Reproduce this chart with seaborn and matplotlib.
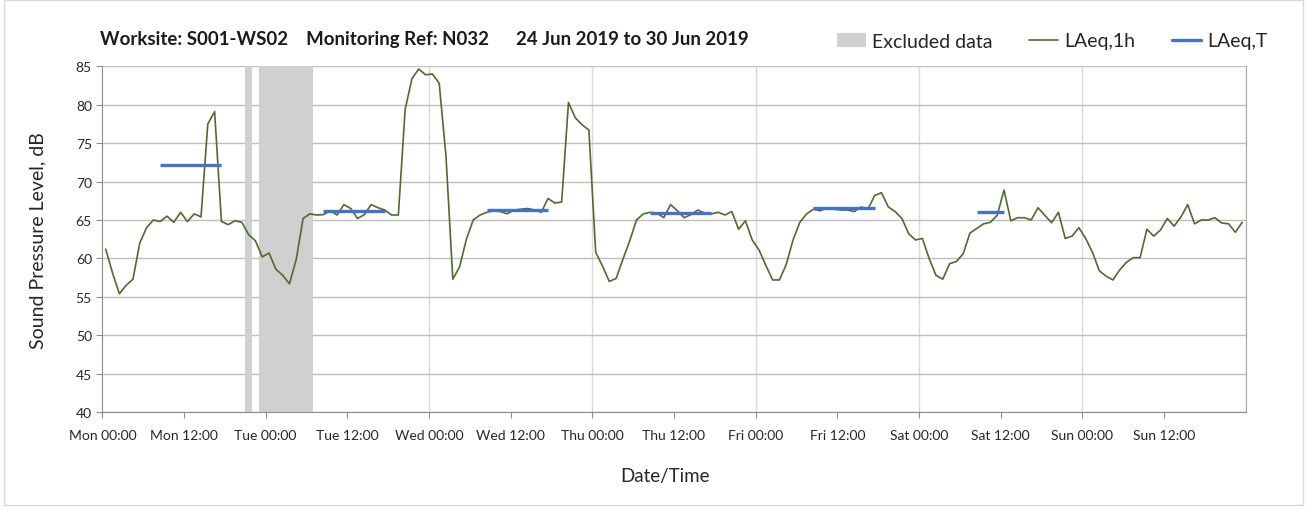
import numpy as np
import pandas as pd
import matplotlib.pyplot as plt
from matplotlib.patches import Patch, Rectangle
from matplotlib.lines import Line2D
import seaborn as sns

# hourly LAeq,1h values, Mon 00:00 -> Sun 23:00
laeq_1h = [
    61.2, 58.1, 55.4, 56.5, 57.3, 62.0, 64.0, 65.0, 64.8, 65.5, 64.7, 66.0,
    64.8, 65.8, 65.4, 77.5, 79.1, 64.8, 64.4, 64.9, 64.7, 63.1, 62.3, 60.2,
    60.7, 58.6, 57.8, 56.7, 59.9, 65.2, 65.8, 65.65, 65.7, 66.2, 65.65, 67.0,
    66.5, 65.2, 65.7, 67.0, 66.6, 66.3, 65.65, 65.65, 79.4, 83.4, 84.65, 83.9,
    84.0, 82.8, 73.3, 57.3, 58.9, 62.5, 65.0, 65.65, 66.0, 66.2, 66.1, 65.8,
    66.3, 66.4, 66.5, 66.3, 66.0, 67.8, 67.2, 67.35, 80.3, 78.3, 77.4, 76.7,
    60.8, 59.0, 57.0, 57.4, 59.9, 62.3, 65.0, 65.8, 66.0, 65.9, 65.3, 67.0,
    66.2, 65.3, 65.7, 66.3, 65.9, 65.8, 66.0, 65.65, 66.1, 63.8, 64.9, 62.4,
    61.1, 59.1, 57.2, 57.2, 59.2, 62.4, 64.7, 65.8, 66.4, 66.2, 66.6, 66.4,
    66.3, 66.3, 66.1, 66.7, 66.4, 68.2, 68.55, 66.7, 66.1, 65.2, 63.2, 62.4,
    62.6, 60.0, 57.8, 57.3, 59.3, 59.6, 60.6, 63.3, 63.9, 64.5, 64.7, 65.6,
    68.9, 64.9, 65.3, 65.3, 65.0, 66.6, 65.6, 64.65, 66.0, 62.6, 62.9, 64.0,
    62.6, 60.8, 58.4, 57.7, 57.2, 58.5, 59.5, 60.1, 60.1, 63.8, 62.9, 63.7,
    65.2, 64.2, 65.4, 67.0, 64.5, 65.0, 65.0, 65.3, 64.6, 64.5, 63.4, 64.7,
]

# LAeq,T assessment periods (first / last hour index) and levels
period_first = [8, 32, 56, 80, 104, 128]
period_last = [17, 41, 65, 89, 113, 132]
laeq_t = [72.1, 66.2, 66.35, 65.9, 66.55, 66.0]

# excluded data windows (hours from Mon 00:00)
excl_start = [21, 23]
excl_end = [22, 31]

tick_labels = ['Mon 00:00', 'Mon 12:00', 'Tue 00:00', 'Tue 12:00', 'Wed 00:00',
               'Wed 12:00', 'Thu 00:00', 'Thu 12:00', 'Fri 00:00', 'Fri 12:00',
               'Sat 00:00', 'Sat 12:00', 'Sun 00:00', 'Sun 12:00']

green = '#4F6B2F'
blue = '#4472C4'
grey_band = '#D0D0D0'

sns.set_style('white')
plt.rcParams['font.family'] = ['Lato', 'DejaVu Sans']

df = pd.DataFrame({'hour': np.arange(len(laeq_1h)) + 0.5, 'LAeq,1h': laeq_1h})

fig = plt.figure(figsize=(13.07, 5.10), dpi=100)
ax = fig.add_axes([0.0783, 0.19, 0.8747, 0.678])

for s, e in zip(excl_start, excl_end):
    ax.axvspan(s, e, color=grey_band, lw=0, zorder=1)

sns.lineplot(x='hour', y='LAeq,1h', data=df, color=green, linewidth=1.2,
             errorbar=None, ax=ax, zorder=3)

for f, l, v in zip(period_first, period_last, laeq_t):
    ax.hlines(v, f + 0.5, l + 0.5, color=blue, linewidth=2.4, zorder=4)

ax.set_xlim(0, 168)
ax.set_ylim(40, 85)
ax.set_yticks(np.arange(40, 86, 5))
ax.set_xticks(np.arange(0, 168, 12))
ax.set_xticklabels(tick_labels)

ax.yaxis.grid(True, color='#BFBFBF', linewidth=1, zorder=0)
for d in range(24, 169, 24):
    ax.axvline(d, color='#D9D9D9', linewidth=1, zorder=0)

ax.spines['top'].set_visible(False)
ax.spines['left'].set_color('#8C8C8C')
ax.spines['bottom'].set_color('#8C8C8C')
ax.spines['right'].set_color('#A6A6A6')
ax.tick_params(axis='both', direction='out', length=4, color='#8C8C8C',
               labelsize=10, labelcolor='#262626', left=True, bottom=True)
ax.tick_params(axis='x', pad=8)

ax.set_xlabel('Date/Time', fontsize=13.5, color='#262626')
ax.xaxis.set_label_coords(0.492, -0.158)
ax.set_ylabel('Sound Pressure Level, dB', fontsize=14, color='#262626')
ax.yaxis.set_label_coords(-0.049, 0.5)

fig.text(100 / 1307, 1 - 40 / 510,
         'Worksite: S001-WS02    Monitoring Ref: N032      24 Jun 2019 to 30 Jun 2019',
         fontsize=13.4, fontweight='bold', ha='left', va='center', color='#1a1a1a')

handles = [Patch(facecolor=grey_band, edgecolor='none', label='Excluded data'),
           Line2D([], [], color=green, linewidth=1.2, label='LAeq,1h'),
           Line2D([], [], color=blue, linewidth=2.4, label='LAeq,T')]
fig.legend(handles=handles, loc='center left', bbox_to_anchor=(819 / 1307, 1 - 42 / 510),
           ncol=3, frameon=False, fontsize=14, handlelength=1.5, handletextpad=0.3,
           columnspacing=1.9)

fig.add_artist(Rectangle((0.003, 0.008), 0.994, 0.99, transform=fig.transFigure,
                         fill=False, edgecolor='#D9D9D9', linewidth=1))

fig.savefig('out.png', dpi=100)
